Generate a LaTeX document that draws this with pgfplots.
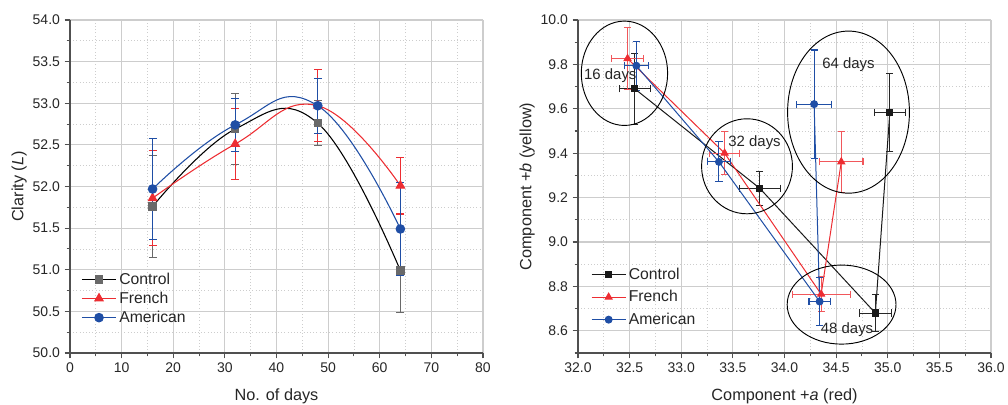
\documentclass[border=0pt]{standalone}
\usepackage{pgfplots}
\usepackage{pgfplotstable}
\pgfplotsset{compat=1.18}
\usepackage{fontspec}
\setmainfont{Liberation Sans}
\definecolor{cred}{RGB}{237,45,50}
\definecolor{cblue}{RGB}{31,78,165}
\definecolor{cgray}{RGB}{105,105,105}
\definecolor{axgray}{RGB}{80,80,80}
\definecolor{gridgray}{RGB}{205,205,205}

\pgfplotstableread{
x y ey
16 51.76 0.61
32 52.69 0.43
48 52.76 0.27
64 50.99 0.50
}\ctrlL
\pgfplotstableread{
x y ey
16 51.86 0.57
32 52.51 0.43
48 52.97 0.43
64 52.01 0.34
}\frL
\pgfplotstableread{
x y ey
16 51.97 0.61
32 52.74 0.32
48 52.97 0.33
64 51.49 0.56
}\amL
\pgfplotstableread{
x y ex ey
32.55 9.690 0.148 0.160
33.76 9.242 0.200 0.077
34.88 8.680 0.155 0.083
35.02 9.583 0.150 0.175
}\ctrlR
\pgfplotstableread{
x y ex ey
32.48 9.826 0.153 0.140
33.42 9.400 0.148 0.097
34.355 8.765 0.280 0.078
34.55 9.361 0.210 0.136
}\frR
\pgfplotstableread{
x y ex ey
32.565 9.794 0.116 0.110
33.365 9.361 0.108 0.090
34.34 8.732 0.103 0.107
34.287 9.621 0.168 0.244
}\amR

\pgfplotsset{mystyle/.style={
  scale only axis, width=309.75pt, height=249.75pt,
  axis x line*=bottom, axis y line*=left,
  axis line style={axgray, line width=1pt, -},
  tick style={axgray, line width=0.8pt}, tick align=outside,
  major tick length=4pt, minor tick length=2.5pt,
  grid=both,
  major grid style={gridgray, line width=0.8pt},
  minor grid style={gridgray, dotted, line width=0.6pt},
  ticklabel style={font=\fontsize{10.5}{12}\selectfont, text=black!85},
  /pgf/number format/assume math mode=true,
  label style={font=\fontsize{12.2}{14}\selectfont, text=black!85, inner sep=0pt},
  legend style={draw=none, fill=none, font=\fontsize{11.8}{14}\selectfont,
    text=black!85, inner xsep=0pt, inner ysep=0pt, row sep=0.3pt},
  legend cell align=left,
  legend image code/.code={\draw[mark repeat=2,mark phase=2,#1] plot coordinates {(0cm,0cm) (0.45cm,0cm) (0.9cm,0cm)};},
  error bars/error bar style={line width=0.8pt},
}}

\begin{document}
\begin{tikzpicture}
\useasboundingbox (0,0) rectangle (756pt,303pt);
% ---------- left ----------
\begin{axis}[mystyle, at={(52.5pt,38.25pt)}, anchor=south west,
  xmin=0, xmax=80, ymin=50, ymax=54,
  xtick={0,10,...,80}, minor xtick={5,15,...,75},
  ytick={50,50.5,...,54}, minor ytick={50.25,50.75,...,53.75},
  yticklabel style={/pgf/number format/.cd, fixed, fixed zerofill, precision=1},
  xlabel={No. of days}, ylabel={Clarity (\textit{L})},
  xlabel style={at={(axis description cs:0.5,-0.106)}, anchor=north},
  ylabel style={at={(axis description cs:-0.104,0.5)}, anchor=south, rotate=0},
  legend style={at={(axis description cs:0.027,0.25)}, anchor=north west},
]
\addplot[black, line width=0.8pt, smooth, tension=0.72, mark=square*, mark size=2.7pt,
  mark options={fill=cgray, draw=cgray, solid},
  error bars/.cd, y dir=both, y explicit, error bar style={cgray},
  error mark options={cgray, mark size=3pt, line width=0.8pt, rotate=90}]
  table[x=x, y=y, y error=ey] {\ctrlL};
\addlegendentry{Control}
\addplot[cred, line width=0.8pt, smooth, tension=0.75, mark=triangle*, mark size=3.6pt,
  mark options={fill=cred, draw=cred, solid},
  error bars/.cd, y dir=both, y explicit, error bar style={cred},
  error mark options={cred, mark size=3pt, line width=0.8pt, rotate=90}]
  table[x=x, y=y, y error=ey] {\frL};
\addlegendentry{French}
\addplot[cblue, line width=0.8pt, smooth, tension=0.78, mark=*, mark size=3.2pt,
  mark options={fill=cblue, draw=cblue, solid},
  error bars/.cd, y dir=both, y explicit, error bar style={cblue},
  error mark options={cblue, mark size=3pt, line width=0.8pt, rotate=90}]
  table[x=x, y=y, y error=ey] {\amL};
\addlegendentry{American}
\end{axis}
% ---------- right ----------
\begin{axis}[mystyle, at={(433.5pt,38.25pt)}, anchor=south west,
  xmin=32, xmax=36, ymin=8.5, ymax=10,
  xtick={32,32.5,...,36}, minor xtick={32.25,32.75,...,35.75},
  ytick={8.6,8.8,...,10.0}, minor ytick={8.5,8.7,...,9.9},
  xticklabel style={/pgf/number format/.cd, fixed, fixed zerofill, precision=1},
  yticklabel style={/pgf/number format/.cd, fixed, fixed zerofill, precision=1},
  xlabel={Component +\textit{a} (red)}, ylabel={Component +\textit{b} (yellow)},
  xlabel style={at={(axis description cs:0.5,-0.106)}, anchor=north},
  ylabel style={at={(axis description cs:-0.104,0.5)}, anchor=south, rotate=0},
  legend style={at={(axis description cs:0.031,0.264)}, anchor=north west, row sep=2.8pt},
]
\addplot[black!90, line width=0.75pt, mark=square*, mark size=2.3pt,
  mark options={fill=black!90, draw=black!90, solid},
  error bars/.cd, x dir=both, x explicit, y dir=both, y explicit, error bar style={black!85},
  error mark options={black!85, mark size=2.7pt, line width=0.8pt, rotate=90}]
  table[x=x, y=y, x error=ex, y error=ey] {\ctrlR};
\addlegendentry{Control}
\addplot[cred, line width=0.75pt, mark=triangle*, mark size=3pt,
  mark options={fill=cred, draw=cred, solid},
  error bars/.cd, x dir=both, x explicit, y dir=both, y explicit, error bar style={cred!80},
  error mark options={cred!80, mark size=2.7pt, line width=0.8pt, rotate=90}]
  table[x=x, y=y, x error=ex, y error=ey] {\frR};
\addlegendentry{French}
\addplot[cblue, line width=0.75pt, mark=*, mark size=2.6pt,
  mark options={fill=cblue, draw=cblue, solid},
  error bars/.cd, x dir=both, x explicit, y dir=both, y explicit, error bar style={cblue},
  error mark options={cblue, mark size=2.7pt, line width=0.8pt, rotate=90}]
  table[x=x, y=y, x error=ex, y error=ey] {\amR};
\addlegendentry{American}
\draw[black, line width=0.7pt] (axis cs:32.45,9.76) ellipse [x radius=0.418, y radius=0.235];
\draw[black, line width=0.7pt] (axis cs:33.637,9.341) ellipse [x radius=0.44, y radius=0.214];
\draw[black, line width=0.7pt] (axis cs:34.62,9.585) ellipse [x radius=0.59, y radius=0.365];
\draw[black, line width=0.7pt] (axis cs:34.553,8.718) ellipse [x radius=0.527, y radius=0.178];
\node[font=\fontsize{11.2}{13}\selectfont, text=black!85] at (axis cs:32.313,9.749) {16 days};
\node[font=\fontsize{11.2}{13}\selectfont, text=black!85] at (axis cs:33.71,9.447) {32 days};
\node[font=\fontsize{11.2}{13}\selectfont, text=black!85] at (axis cs:34.62,9.80) {64 days};
\node[font=\fontsize{11.2}{13}\selectfont, text=black!85] at (axis cs:34.606,8.605) {48 days};
\end{axis}
\end{tikzpicture}
\end{document}
